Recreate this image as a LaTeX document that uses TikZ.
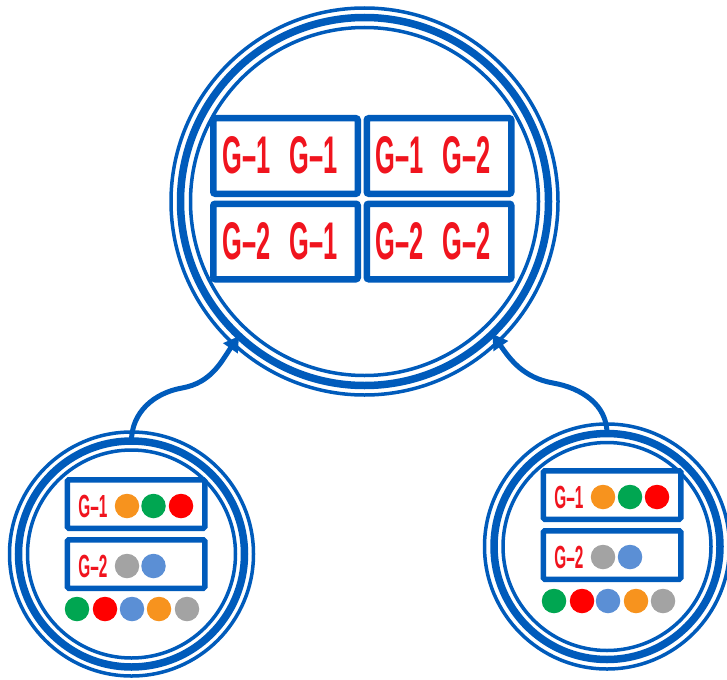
\documentclass[tikz,border=0pt]{standalone}
\usepackage{fontspec}
\usetikzlibrary{arrows.meta}
\newfontfamily\labelfont[FakeStretch=0.48]{Liberation Sans}

\definecolor{ringblue}{RGB}{0,91,187}
\definecolor{labelred}{RGB}{240,20,30}
\definecolor{dotorange}{RGB}{247,147,30}
\definecolor{dotgreen}{RGB}{0,166,81}
\definecolor{dotred}{RGB}{255,0,0}
\definecolor{dotblue}{RGB}{91,143,213}
\definecolor{dotgray}{RGB}{163,163,163}

\tikzset{
  ring/.style={circle, draw=ringblue, line width=7.5pt, inner sep=0pt, outer sep=0pt, minimum size=#1},
  thinring/.style={draw=ringblue, line width=3.5pt},
  pairbox/.style={draw=ringblue, line width=6.5pt, rounded corners=2pt, inner sep=0pt,
    minimum width=144.5pt, minimum height=75.5pt},
  setbox/.style={draw=ringblue, line width=5.5pt, rounded corners=1.5pt, inner sep=0pt,
    minimum width=137.5pt, minimum height=48.5pt},
  dot/.style={circle, fill=#1, inner sep=0pt, minimum size=24.5pt},
  biglabel/.style={text=labelred, inner sep=0pt, font=\labelfont\bfseries\fontsize{53}{53}\selectfont},
  smalllabel/.style={text=labelred, inner sep=0pt, font=\labelfont\bfseries\fontsize{32}{32}\selectfont},
  link/.style={draw=ringblue, line width=5pt, -{Triangle[length=15pt,width=17pt]}}
}

\begin{document}
\begin{tikzpicture}[x=1pt, y=1pt]
\useasboundingbox (0,0) rectangle (727,-679);

% ---- central circle with the four pair boxes
\node[ring=368pt] (hub) at (364.5,-201.5) {};
\draw[thinring] (hub.center) circle[radius=193.5];
\draw[thinring] (hub.center) circle[radius=174];

\node[pairbox] (p11) at (285.5,-156) {};
\node[pairbox] (p12) at (439,-156) {};
\node[pairbox] (p21) at (285.5,-241.5) {};
\node[pairbox] (p22) at (439,-241.5) {};

\node[biglabel] (p11a) at (246.5,-155) {G–1};
\node[biglabel] (p11b) at (313.5,-155) {G–1};
\node[biglabel] (p12a) at (399.5,-155) {G–1};
\node[biglabel] (p12b) at (466.7,-155) {G–2};
\node[biglabel] (p21a) at (246.5,-241.5) {G–2};
\node[biglabel] (p21b) at (313.5,-241.5) {G–1};
\node[biglabel] (p22a) at (399.5,-241.5) {G–2};
\node[biglabel] (p22b) at (466.7,-241.5) {G–2};

% ---- left circle
\node[ring=226pt] (left) at (131.5,-554) {};
\draw[thinring] (left.center) circle[radius=122];
\draw[thinring] (left.center) circle[radius=104];

\node[setbox] (lg1) at (136,-504) {};
\node[setbox] (lg2) at (136,-564) {};
\node[smalllabel] (lg1t) at (93,-506) {G–1};
\node[smalllabel] (lg2t) at (93,-566) {G–2};
\node[dot=dotorange] (lg1a) at (127,-506) {};
\node[dot=dotgreen]  (lg1b) at (153.5,-506) {};
\node[dot=dotred]    (lg1c) at (181,-506) {};
\node[dot=dotgray]   (lg2a) at (127,-566) {};
\node[dot=dotblue]   (lg2b) at (153.5,-566) {};
\node[dot=dotgreen]  (lr1) at (77,-609) {};
\node[dot=dotred]    (lr2) at (105,-609) {};
\node[dot=dotblue]   (lr3) at (132,-609) {};
\node[dot=dotorange] (lr4) at (159,-609) {};
\node[dot=dotgray]   (lr5) at (187,-609) {};

% ---- right circle
\node[ring=226pt] (right) at (607,-546.5) {};
\draw[thinring] (right.center) circle[radius=122.5];
\draw[thinring] (right.center) circle[radius=104];

\node[setbox] (rg1) at (612,-495) {};
\node[setbox] (rg2) at (612,-555) {};
\node[smalllabel] (rg1t) at (569,-497) {G–1};
\node[smalllabel] (rg2t) at (569,-557) {G–2};
\node[dot=dotorange] (rg1a) at (603,-497) {};
\node[dot=dotgreen]  (rg1b) at (630,-497) {};
\node[dot=dotred]    (rg1c) at (657,-497) {};
\node[dot=dotgray]   (rg2a) at (603,-557) {};
\node[dot=dotblue]   (rg2b) at (630,-557) {};
\node[dot=dotgreen]  (rr1) at (554,-601) {};
\node[dot=dotred]    (rr2) at (582,-601) {};
\node[dot=dotblue]   (rr3) at (608,-601) {};
\node[dot=dotorange] (rr4) at (636,-601) {};
\node[dot=dotgray]   (rr5) at (663,-601) {};

% ---- connectors into the central circle
\coordinate (lbend) at (182,-388);
\coordinate (rbend) at (553,-383);
\draw[link] (left.north) to[out=90,in=190] (lbend) to[out=10,in=235] (hub.227.5);
\draw[link] (right.north) to[out=90,in=-10] (rbend) to[out=170,in=305] (hub.314);
\end{tikzpicture}
\end{document}
